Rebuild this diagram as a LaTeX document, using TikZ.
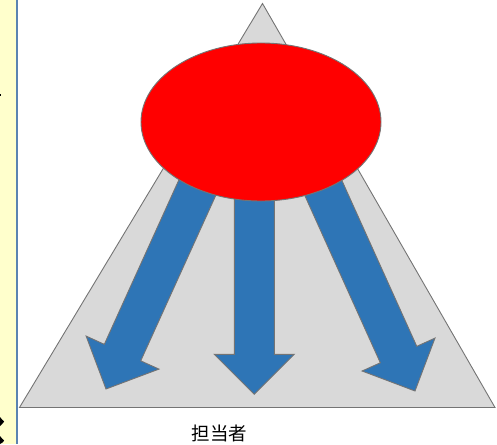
\documentclass[tikz,border=0pt]{standalone}
\usepackage{fontspec}
\usetikzlibrary{shapes.geometric}
\newfontfamily\cjkfont{Noto Sans CJK JP}
\definecolor{panelyellow}{HTML}{FFFFCC}
\definecolor{panelline}{HTML}{5B84B1}
\definecolor{trifill}{HTML}{D9D9D9}
\definecolor{edgegray}{HTML}{747474}
\definecolor{arrowblue}{HTML}{2E75B6}
\tikzset{
  shapeedge/.style={draw=edgegray, line width=0.9pt, line join=miter},
  blockarrow/.style={shapeedge, fill=arrowblue},
}
% block arrow: tip at #1, direction angle #2, total length #3
\newcommand{\blockarr}[3]{%
  \begin{scope}[shift={#1}, rotate=#2]
    \path[blockarrow] (-#3,-20) -- (-40,-20) -- (-40,-40) -- (0,0) -- (-40,40) -- (-40,20) -- (-#3,20) -- cycle;
  \end{scope}}
\begin{document}
\begin{tikzpicture}[x=1pt,y=-1pt]
\useasboundingbox (0,0) rectangle (497,444);
% left panel
\fill[panelyellow] (0,0) rectangle (16.5,444);
\draw[panelline, line width=1.8pt] (17.3,0) -- (17.3,444);
% cut-off fragments at left edge
\fill[black] (0,93.5) rectangle (1.4,96);
\fill[black] (0,417) -- (2.5,420) -- (4.2,421.5) -- (2.5,423.5) -- (0,426) -- cycle;
\fill[black] (0,436) -- (2.5,439) -- (4.2,440.5) -- (2.5,442.5) -- (0,444) -- cycle;
% triangle
\path[shapeedge, fill=trifill] (19.5,407.5) coordinate (tl) -- (262.5,3.5) coordinate (tt) -- (495,407.5) coordinate (tr) -- cycle;
% arrows
\blockarr{(106,389)}{245.6}{255}
\blockarr{(254.3,394.3)}{270}{250}
\blockarr{(415,391)}{294.3}{255}
% ellipse
\node[shapeedge, fill=red, ellipse, minimum width=240pt, minimum height=158pt, inner sep=0pt] (top) at (261,122) {};
% label
\node[font=\cjkfont\fontsize{18.5}{20}\selectfont, inner sep=0pt] (who) at (219.5,433.5) {担当者};
\end{tikzpicture}
\end{document}
